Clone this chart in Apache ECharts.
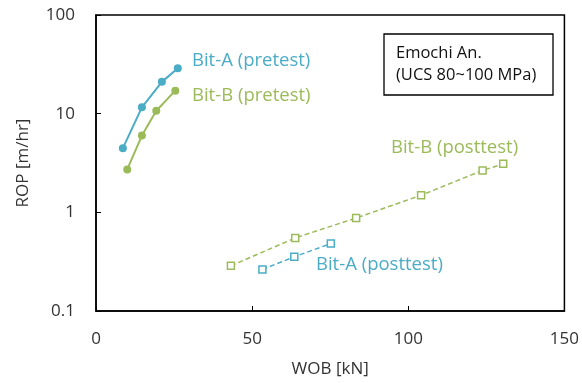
<!DOCTYPE html>
<html><head><meta charset="utf-8">
<script src="https://cdn.jsdelivr.net/npm/echarts@6/dist/echarts.min.js"></script>
<style>html,body{margin:0;padding:0;background:#fff}#c{width:582px;height:383px}</style>
</head><body><div id="c"></div>
<script>
const bitA_pre_wob = [8.6, 14.7, 21.1, 26.2];
const bitA_pre_rop = [4.47, 11.6, 21.0, 28.9];
const bitB_pre_wob = [10.0, 14.7, 19.3, 25.4];
const bitB_pre_rop = [2.72, 6.0, 10.7, 17.1];
const bitA_post_wob = [53.3, 63.5, 75.2];
const bitA_post_rop = [0.264, 0.354, 0.483];
const bitB_post_wob = [43.2, 63.8, 83.3, 104.1, 123.8, 130.4];
const bitB_post_rop = [0.287, 0.55, 0.876, 1.49, 2.66, 3.10];
const xTicks = [0, 50, 100, 150];
const yTicks = [0.1, 1, 10, 100];

const BLUE = '#4bacc6', GREEN = '#9bbb59';
const FONT = '"Open Sans", "Noto Sans", sans-serif';
const zip = (a, b) => a.map((v, i) => [v, b[i]]);

const chart = echarts.init(document.getElementById('c'));
chart.setOption({
  animation: false,
  grid: {left: 96, right: 17, top: 15, bottom: 72, show: true, borderColor: '#000', borderWidth: 1.5, backgroundColor: 'transparent'},
  xAxis: {
    type: 'value', min: xTicks[0], max: xTicks[xTicks.length - 1], interval: 50,
    name: 'WOB [kN]', nameLocation: 'middle', nameGap: 50,
    nameTextStyle: {fontFamily: FONT, fontSize: 17, color: '#333'},
    axisLine: {show: true, lineStyle: {color: '#000', width: 1.5}},
    axisTick: {show: true, inside: true, length: 5, lineStyle: {color: '#000'}},
    axisLabel: {fontFamily: FONT, fontSize: 17, color: '#333', margin: 20},
    splitLine: {show: false}
  },
  yAxis: {
    type: 'log', logBase: 10, min: yTicks[0], max: yTicks[yTicks.length - 1],
    name: 'ROP [m/hr]', nameLocation: 'middle', nameGap: 64,
    nameTextStyle: {fontFamily: FONT, fontSize: 17, color: '#333'},
    axisLine: {show: true, lineStyle: {color: '#000', width: 1.5}},
    axisTick: {show: true, inside: true, length: 5, lineStyle: {color: '#000'}},
    axisLabel: {fontFamily: FONT, fontSize: 17, color: '#333', margin: 21,
      formatter: v => String(+v.toPrecision(3))},
    minorTick: {show: false},
    splitLine: {show: false}
  },
  series: [
    {type: 'line', data: zip(bitA_pre_wob, bitA_pre_rop), symbol: 'circle', symbolSize: 8,
     lineStyle: {color: BLUE, width: 2}, itemStyle: {color: BLUE}},
    {type: 'line', data: zip(bitB_pre_wob, bitB_pre_rop), symbol: 'circle', symbolSize: 8,
     lineStyle: {color: GREEN, width: 2}, itemStyle: {color: GREEN}},
    {type: 'line', data: zip(bitA_post_wob, bitA_post_rop), symbol: 'rect', symbolSize: 7,
     lineStyle: {color: BLUE, width: 1.5, type: [5, 3]}, itemStyle: {color: '#fff', borderColor: BLUE, borderWidth: 1.5}},
    {type: 'line', data: zip(bitB_post_wob, bitB_post_rop), symbol: 'rect', symbolSize: 7,
     lineStyle: {color: GREEN, width: 1.5, type: [5, 3]}, itemStyle: {color: '#fff', borderColor: GREEN, borderWidth: 1.5}}
  ],
  graphic: [
    {type: 'text', style: {x: 192, y: 61, verticalAlign: 'middle', text: 'Bit-A (pretest)', fill: BLUE, font: '18.5px ' + FONT}},
    {type: 'text', style: {x: 192, y: 96, verticalAlign: 'middle', text: 'Bit-B (pretest)', fill: GREEN, font: '18.5px ' + FONT}},
    {type: 'text', style: {x: 391, y: 148, verticalAlign: 'middle', text: 'Bit-B (posttest)', fill: GREEN, font: '18.5px ' + FONT}},
    {type: 'text', style: {x: 316, y: 265, verticalAlign: 'middle', text: 'Bit-A (posttest)', fill: BLUE, font: '18.5px ' + FONT}},
    {type: 'rect', shape: {x: 384, y: 34, width: 169, height: 61}, style: {fill: '#fff', stroke: '#000', lineWidth: 1.3}},
    {type: 'text', style: {x: 396, y: 53, verticalAlign: 'middle', text: 'Emochi An.', fill: '#111', font: '16.5px ' + FONT}},
    {type: 'text', style: {x: 396, y: 75, verticalAlign: 'middle', text: '(UCS 80~100 MPa)', fill: '#111', font: '16.5px ' + FONT}}
  ]
});
</script></body></html>
